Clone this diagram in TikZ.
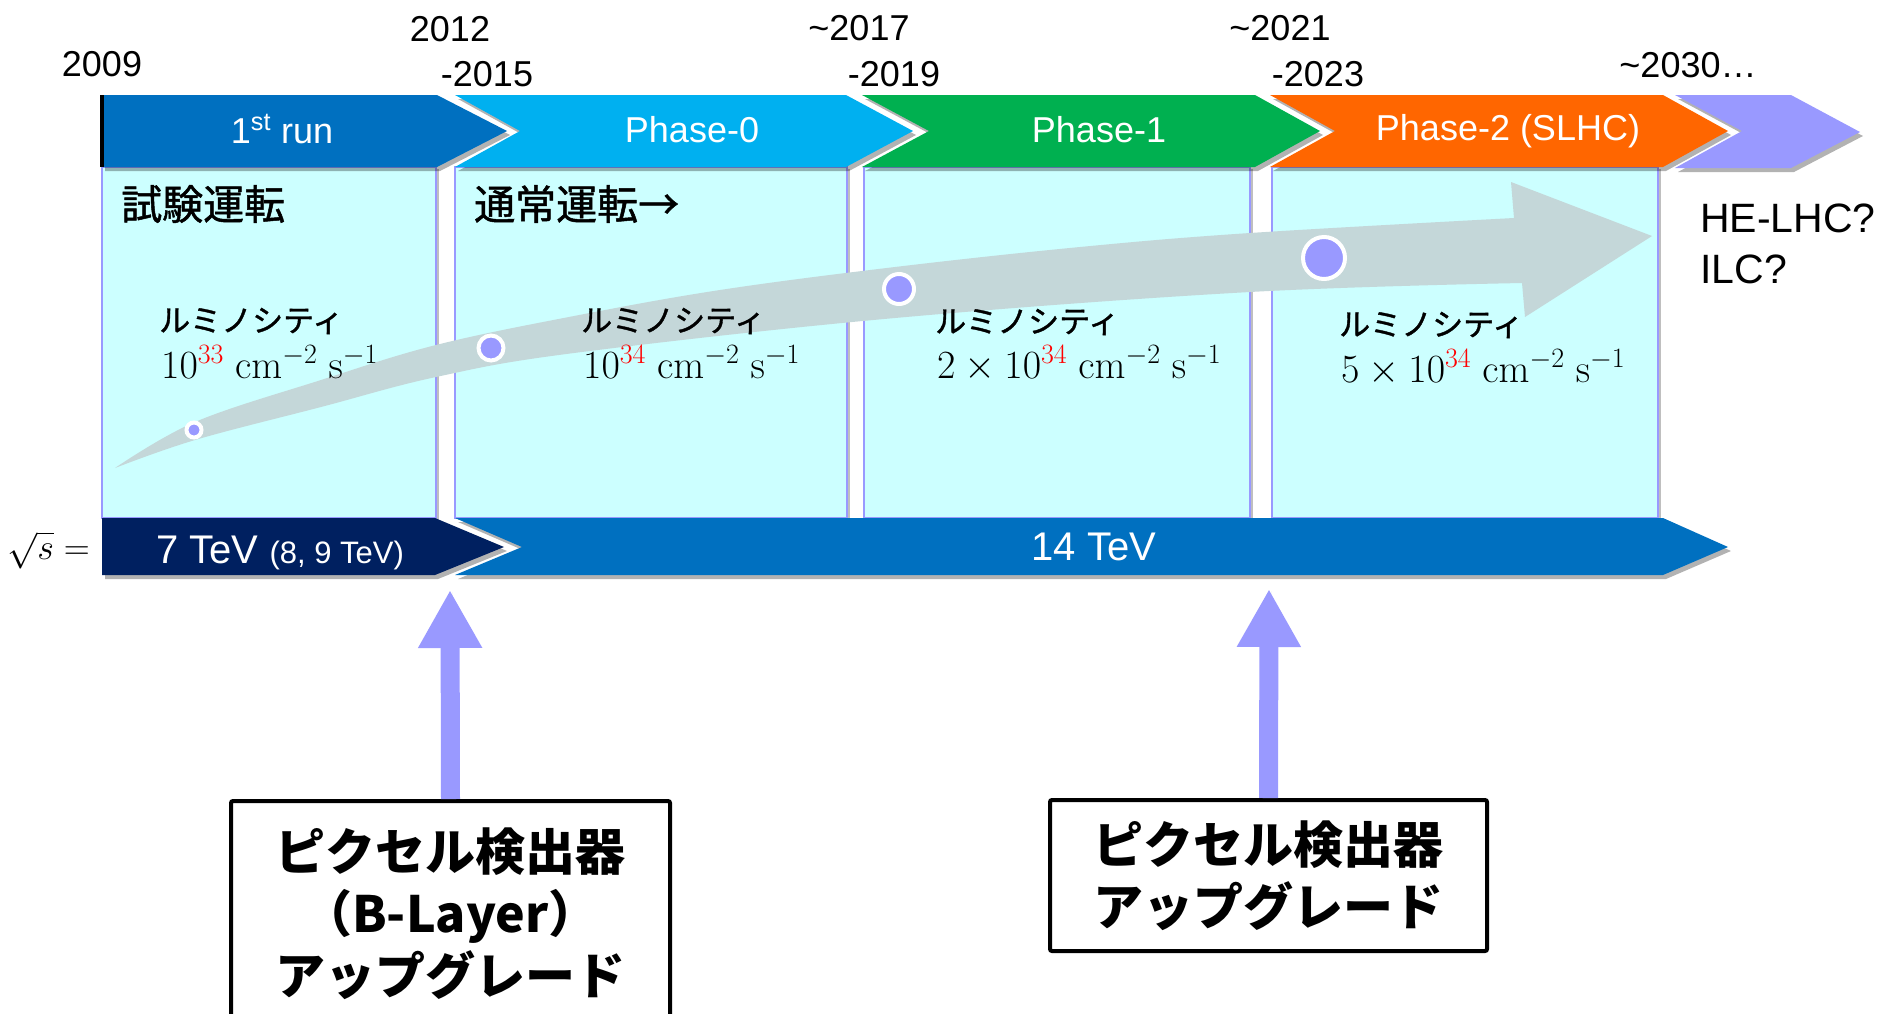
\RequirePackage{fix-cm}
\documentclass[tikz,border=0pt]{standalone}
\usepackage[no-math]{fontspec}
\setmainfont{Liberation Sans}
\newfontfamily\jp{Noto Sans CJK JP}
\newfontfamily\jpm{Noto Sans CJK JP}[FakeBold=1.2]
\usetikzlibrary{arrows.meta,shadows}
\definecolor{runA}{HTML}{0070C0}
\definecolor{phZero}{HTML}{00B0F0}
\definecolor{phOne}{HTML}{00B050}
\definecolor{phTwo}{HTML}{FF6600}
\definecolor{purp}{HTML}{9999FF}
\definecolor{navy}{HTML}{002060}
\definecolor{cellc}{HTML}{CCFFFF}
\definecolor{cellb}{HTML}{9999FF}
\definecolor{garrowc}{HTML}{C4D7D9}
\definecolor{dotc}{HTML}{9999FF}
\begin{document}
\begin{tikzpicture}[x=1pt,y=-1pt,
  yr/.style={font=\fontsize{36}{43}\selectfont, inner sep=0pt},
  bantxt/.style={font=\fontsize{36}{43}\selectfont, text=white, inner sep=0pt},
  jlab/.style={font=\jpm\fontsize{41}{49}\selectfont, inner sep=0pt, anchor=west},
  lumi/.style={font=\jpm\fontsize{31}{37}\selectfont, inner sep=0pt, anchor=west},
  lval/.style={font=\fontsize{40}{48}\selectfont, inner sep=0pt, anchor=base west},
  cellbox/.style={fill=cellc, draw=cellb, line width=1.5pt, drop shadow={shadow xshift=3pt, shadow yshift=-2pt, opacity=0.25, fill=black}},
  chev/.style={drop shadow={shadow xshift=3pt, shadow yshift=-4pt, opacity=0.3, fill=black}},
  dotmark/.style={fill=dotc, draw=white, line width=4pt},
  upgbox/.style={draw=black, line width=4pt, fill=white, rounded corners=2pt, align=center,
    font=\jp\bfseries\fontsize{50}{62}\selectfont, inner sep=0pt},
  uparr/.style={draw=purp, line width=19pt, -{Triangle[width=60pt,length=58pt]},
    drop shadow={shadow xshift=2pt, shadow yshift=-2pt, opacity=0.2, fill=black}}
]
\useasboundingbox (0,0) rectangle (1885,1013);

% cells
\path[cellbox] (102,167) rectangle (436,518);
\path[cellbox] (455,167) rectangle (847,518);
\path[cellbox] (864,167) rectangle (1250,518);
\path[cellbox] (1272,167) rectangle (1658,518);

% luminosity arrow
\fill[garrowc] plot[smooth, tension=0.6] coordinates {(115,468) (195,422) (321,380) (436,345) (574,316) (720,290) (895,267) (1080,247) (1250,233) (1514,218)}
  -- (1511,182) -- (1652,236) -- (1525,317)
  -- plot[smooth, tension=0.6] coordinates {(1522,283) (1250,292) (895,318) (574,353) (436,377) (321,407) (195,440) (115,468)} -- cycle;
\path[dotmark] (194,430) circle[radius=7.5pt];
\path[dotmark] (491,348) circle[radius=12.5pt];
\path[dotmark] (899,289) circle[radius=15pt];
\path[dotmark] (1324,258) circle[radius=21pt];

% top banner chevrons
\path[chev, fill=runA] (102,95) -- (437,95) -- (507,131) -- (437,167) -- (102,167) -- cycle;
\fill[black] (100,95) rectangle (104,167);
\path[chev, fill=phZero] (455,95) -- (846,95) -- (913,131) -- (846,167) -- (455,167) -- (520,131) -- cycle;
\path[chev, fill=phOne] (862,95) -- (1255,95) -- (1320,131) -- (1255,167) -- (862,167) -- (929,131) -- cycle;
\path[chev, fill=phTwo] (1270,95) -- (1663,95) -- (1728,131) -- (1663,167) -- (1270,167) -- (1335,131) -- cycle;
\path[chev, fill=purp] (1675,95) -- (1791,95) -- (1860,132) -- (1791,168) -- (1675,168) -- (1742,131) -- cycle;

\node[bantxt] (trun) at (282,129) {1\textsuperscript{st} run};
\node[bantxt] (tp0) at (692,130) {Phase-0};
\node[bantxt] (tp1) at (1099,130) {Phase-1};
\node[bantxt] (tp2) at (1508,131) {Phase-2 (SLHC)};

% years
\node[yr] (y2009) at (102,64) {2009};
\node[yr] (y2012) at (450,29) {2012};
\node[yr] (y2015) at (487,74) {-2015};
\node[yr] (y2017) at (859,28) {\textasciitilde2017};
\node[yr] (y2019) at (894,74) {-2019};
\node[yr] (y2021) at (1280,28) {\textasciitilde2021};
\node[yr] (y2023) at (1318,74) {-2023};
\node[yr] (y2030) at (1688,65) {\textasciitilde2030…};

% cell texts
\node[jlab] (shiken) at (121,204) {試験運転};
\node[jlab] (tsujo) at (474,204) {通常運転→};
\node[lumi] (l1) at (159,321) {ルミノシティ};
\node[lumi] (l2) at (581,321) {ルミノシティ};
\node[lumi] (l3) at (935,322) {ルミノシティ};
\node[lumi] (l4) at (1339,325) {ルミノシティ};
\node[lval] (v1) at (161,378) {$10^{\textcolor{red}{33}}\ \mathrm{cm}^{-2}\ \mathrm{s}^{-1}$};
\node[lval] (v2) at (583,378) {$10^{\textcolor{red}{34}}\ \mathrm{cm}^{-2}\ \mathrm{s}^{-1}$};
\node[lval] (v3) at (937,378) {$2\times10^{\textcolor{red}{34}}\ \mathrm{cm}^{-2}\ \mathrm{s}^{-1}$};
\node[lval] (v4) at (1341,382) {$5\times10^{\textcolor{red}{34}}\ \mathrm{cm}^{-2}\ \mathrm{s}^{-1}$};

\node[font=\fontsize{41}{51}\selectfont, inner sep=0pt, anchor=west, align=left] (future) at (1700,244) {HE-LHC?\\ILC?};

% energy bar
\path[chev, fill=navy] (102,518) -- (435,518) -- (504,547) -- (435,575) -- (102,575) -- cycle;
\path[chev, fill=runA] (455,518) -- (1663,518) -- (1728,547) -- (1663,575) -- (455,575) -- (522,547) -- cycle;
\node[font=\fontsize{36}{44}\selectfont, inner sep=0pt, anchor=east] (sqrts) at (90,550) {$\sqrt{s}=$};
\node[font=\fontsize{40}{48}\selectfont, text=white, inner sep=0pt, anchor=base west] (e7) at (156,563) {7 TeV {\fontsize{31}{36}\selectfont(8, 9 TeV)}};
\node[font=\fontsize{40}{48}\selectfont, text=white, inner sep=0pt] (e14) at (1094,547) {14 TeV};

% upgrade boxes
\node[upgbox, anchor=north, minimum width=439pt, minimum height=226pt] (box1) at (450.5,799) {ピクセル検出器\\（B-Layer）\\アップグレード};
\node[upgbox, anchor=north, minimum width=437pt, minimum height=151pt] (box2) at (1268.5,798) {ピクセル検出器\\アップグレード};
\coordinate (tip1) at (450,590);
\coordinate (tip2) at (1269,589);
\draw[uparr] (box1.north) -- (tip1);
\draw[uparr] (box2.north) -- (tip2);
\end{tikzpicture}
\end{document}
